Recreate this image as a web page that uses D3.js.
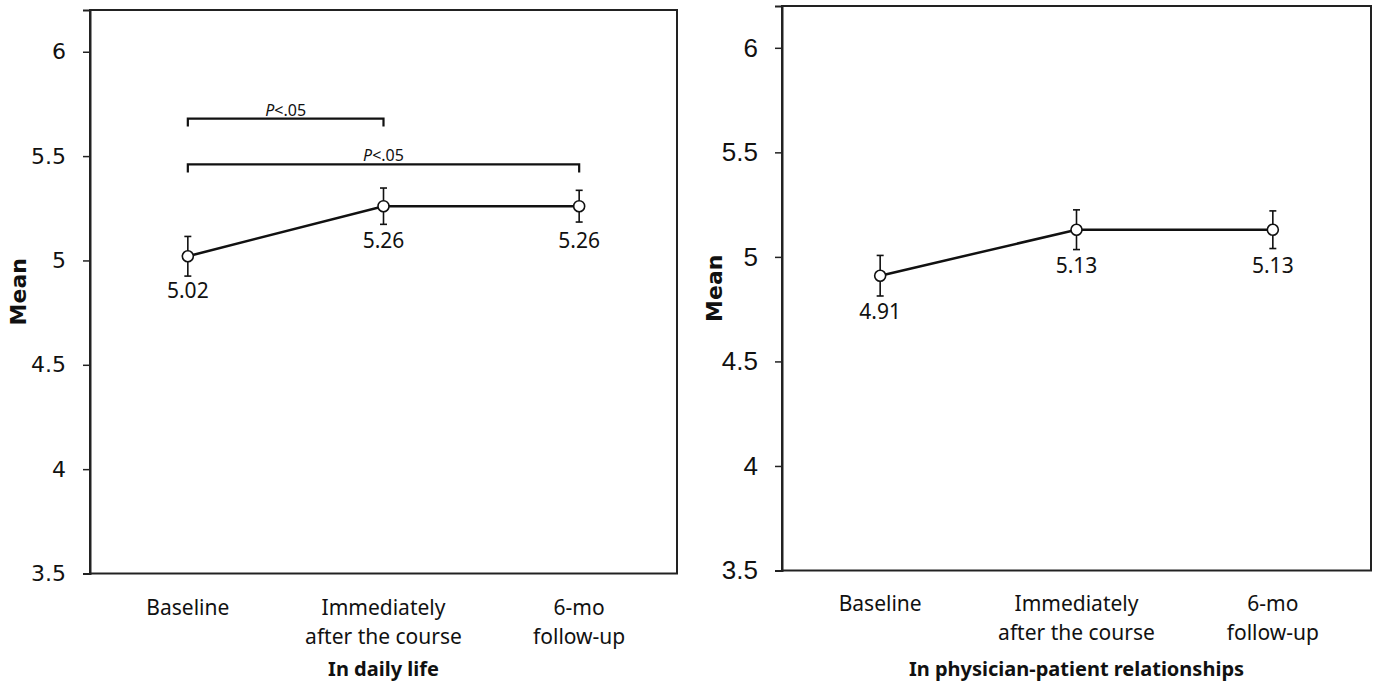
<!DOCTYPE html>
<html>
<head>
<meta charset="utf-8">
<script src="https://cdn.jsdelivr.net/npm/d3@7"></script>
<style>
  body { margin: 0; background: #fff; }
  svg { display: block; }
</style>
</head>
<body>
<script>
// Chart data
var categories = ["Baseline", "Immediately after the course", "6-mo follow-up"];
var categoryLines = [["Baseline"], ["Immediately", "after the course"], ["6-mo", "follow-up"]];
var yTicks = [3.5, 4, 4.5, 5, 5.5, 6];

var dailyMeans = [5.02, 5.26, 5.26];
var dailyErr = [0.095, 0.087, 0.076];

var physMeans = [4.91, 5.13, 5.13];
var physErr = [0.097, 0.095, 0.09];

// significance brackets: from index, to index, level
var dailySig = [[0, 1, 5.68], [0, 2, 5.46]];
var sigLabel = ".05";

var svgWidth = 1374;
var svgHeight = 681;

var svg = d3.select("body")
  .append("svg")
  .attr("width", svgWidth)
  .attr("height", svgHeight);

var panels = [
  {
    left: 90, right: 677, top: 10, bottom: 573.5,
    means: dailyMeans, err: dailyErr, sig: dailySig,
    title: "In daily life",
    tickFont: "'DejaVu Sans', sans-serif", tickSize: 22,
    meanX: 18, catY: 607, valueOffset: 34
  },
  {
    left: 782, right: 1371, top: 6, bottom: 570.5,
    means: physMeans, err: physErr, sig: [],
    title: "In physician-patient relationships",
    tickFont: "'Liberation Sans', Arial, sans-serif", tickSize: 26,
    meanX: 714, catY: 603, valueOffset: 35
  }
];

var textFont = "'Noto Sans', sans-serif";

panels.forEach(function(p) {
  var xScale = d3.scaleBand()
    .domain(categories)
    .range([p.left, p.right])
    .padding(0);

  var yScale = d3.scaleLinear()
    .domain([3.5, 6.2])
    .range([p.bottom, p.top]);

  var cx = function(i) { return xScale(categories[i]) + xScale.bandwidth() / 2; };

  var g = svg.append("g");

  // frame
  g.append("rect")
    .attr("x", p.left)
    .attr("y", p.top)
    .attr("width", p.right - p.left)
    .attr("height", p.bottom - p.top)
    .attr("fill", "none")
    .attr("stroke", "#222")
    .attr("stroke-width", 2);

  // y axis
  var yAxis = d3.axisLeft(yScale)
    .tickValues(yTicks)
    .tickSize(7)
    .tickPadding(17)
    .tickFormat(function(d) { return String(d); });

  var ax = g.append("g")
    .attr("transform", `translate(${p.left}, 0)`)
    .call(yAxis);
  ax.select(".domain").attr("stroke", "#222").attr("stroke-width", 2);
  ax.selectAll(".tick line").attr("stroke", "#222").attr("stroke-width", 1.5);
  ax.selectAll(".tick text")
    .attr("fill", "#111")
    .style("font-family", p.tickFont)
    .style("font-size", p.tickSize + "px");

  // y axis title
  g.append("text")
    .attr("transform", `translate(${p.meanX}, ${(p.top + p.bottom) / 2}) rotate(-90)`)
    .attr("text-anchor", "middle")
    .attr("dominant-baseline", "central")
    .style("font-family", "'DejaVu Sans', sans-serif")
    .style("font-weight", "bold")
    .style("font-size", "22px")
    .attr("fill", "#111")
    .text("Mean");

  // category labels
  categoryLines.forEach(function(lines, i) {
    lines.forEach(function(line, j) {
      g.append("text")
        .attr("x", cx(i))
        .attr("y", p.catY + j * 29)
        .attr("text-anchor", "middle")
        .attr("dominant-baseline", "central")
        .style("font-family", textFont)
        .style("font-size", "21px")
        .attr("fill", "#111")
        .text(line);
    });
  });

  // panel title
  g.append("text")
    .attr("x", (p.left + p.right) / 2)
    .attr("y", 668)
    .attr("text-anchor", "middle")
    .attr("dominant-baseline", "central")
    .style("font-family", textFont)
    .style("font-weight", "bold")
    .style("font-size", "20px")
    .attr("fill", "#111")
    .text(p.title);

  // error bars
  var eb = g.selectAll(".errbar")
    .data(p.means)
    .enter()
    .append("g")
    .classed("errbar", true)
    .attr("stroke", "#111")
    .attr("stroke-width", 1.6);

  eb.append("line")
    .attr("x1", (d, i) => cx(i))
    .attr("x2", (d, i) => cx(i))
    .attr("y1", (d, i) => yScale(d - p.err[i]))
    .attr("y2", (d, i) => yScale(d + p.err[i]));
  eb.append("line")
    .attr("x1", (d, i) => cx(i) - 3.5)
    .attr("x2", (d, i) => cx(i) + 3.5)
    .attr("y1", (d, i) => yScale(d + p.err[i]))
    .attr("y2", (d, i) => yScale(d + p.err[i]));
  eb.append("line")
    .attr("x1", (d, i) => cx(i) - 3.5)
    .attr("x2", (d, i) => cx(i) + 3.5)
    .attr("y1", (d, i) => yScale(d - p.err[i]))
    .attr("y2", (d, i) => yScale(d - p.err[i]));

  // mean line
  var line = d3.line()
    .x((d, i) => cx(i))
    .y(d => yScale(d));

  g.append("path")
    .datum(p.means)
    .attr("d", line)
    .attr("fill", "none")
    .attr("stroke", "#111")
    .attr("stroke-width", 2.5);

  // markers
  g.selectAll(".marker")
    .data(p.means)
    .enter()
    .append("circle")
    .classed("marker", true)
    .attr("cx", (d, i) => cx(i))
    .attr("cy", d => yScale(d))
    .attr("r", 5.5)
    .attr("fill", "#fff")
    .attr("stroke", "#111")
    .attr("stroke-width", 1.6);

  // value labels
  g.selectAll(".vlabel")
    .data(p.means)
    .enter()
    .append("text")
    .classed("vlabel", true)
    .attr("x", (d, i) => cx(i))
    .attr("y", d => yScale(d) + p.valueOffset)
    .attr("text-anchor", "middle")
    .attr("dominant-baseline", "central")
    .style("font-family", textFont)
    .style("font-size", "21px")
    .attr("fill", "#111")
    .text(d => d.toFixed(2));

  // significance brackets
  p.sig.forEach(function(s) {
    var x1 = cx(s[0]), x2 = cx(s[1]), yy = yScale(s[2]);
    g.append("path")
      .attr("d", `M${x1},${yy + 8}V${yy}H${x2}V${yy + 8}`)
      .attr("fill", "none")
      .attr("stroke", "#111")
      .attr("stroke-width", 2.2);
    var t = g.append("text")
      .attr("x", (x1 + x2) / 2)
      .attr("y", yy - 9)
      .attr("text-anchor", "middle")
      .attr("dominant-baseline", "central")
      .style("font-family", textFont)
      .style("font-size", "16px")
      .attr("fill", "#111");
    t.append("tspan").style("font-style", "italic").text("P");
    t.append("tspan").text("<" + sigLabel);
  });
});
</script>
</body>
</html>
